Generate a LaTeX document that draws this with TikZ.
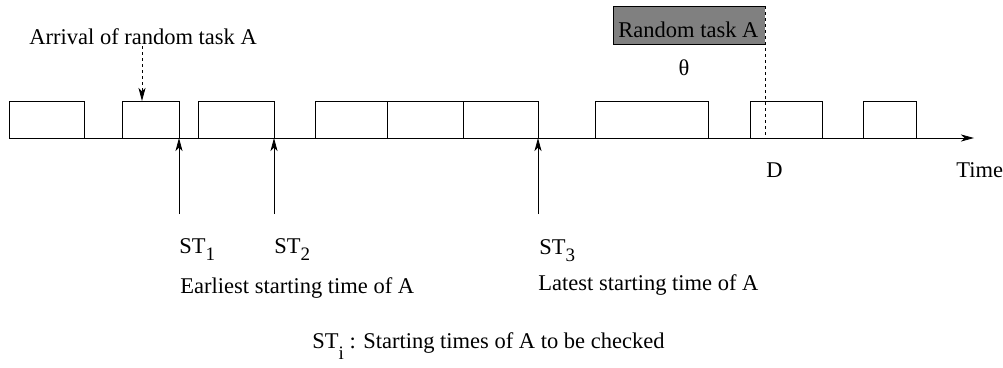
\documentclass[tikz,border=0pt]{standalone}
\usepackage{fontspec}
\setmainfont{Liberation Serif}
\usetikzlibrary{arrows.meta}
\newcommand{\lowsub}[2]{\raisebox{-#1}{\fontsize{19}{19}\selectfont #2}}
\tikzset{
  lbl/.style={font=\fontsize{22.5}{27}\selectfont, inner sep=0pt, anchor=base west},
  job/.style={draw, line width=0.8pt, inner sep=0pt, outer sep=0pt, minimum height=37pt, anchor=south west},
}
\begin{document}
\begin{tikzpicture}[x=1pt, y=-1pt, line width=0.8pt, >={Stealth[length=13pt,width=7pt,inset=3.5pt]}]
    \useasboundingbox (0,0) rectangle (1003,367);

    % time line and the tasks on it
    \coordinate (t0) at (9,138);
    \coordinate (tend) at (974,138);
    \draw[->] (t0)--(tend);
    \foreach \a/\b [count=\i] in {9/84, 122/179, 198/274, 315/387, 387/463, 463/538, 595/708, 750/822, 863/916}
      \node[job, minimum width={(\b-\a)*1pt}] (j\i) at (\a,138) {};

    % random task
    \node[fill=gray, inner sep=0pt, outer sep=0pt, minimum width=152pt, minimum height=38pt] (rt) at (689,25) {};
    \draw (rt.north east)--(rt.north west)--(rt.south west)--(rt.south east);
    \draw[dashed] (rt.north east)--(rt.north east |- t0);
    \node[lbl] (rtl) at (618,37) {Random task A};
    \node[lbl, anchor=base] (theta) at (684,75) {θ};
    \node[lbl] (d) at (766,177) {D};
    \node[lbl] (time) at (956,177) {Time};

    % arrival
    \node[lbl] (arr) at (29,44) {Arrival of random task A};
    \coordinate (arrtop) at (142,46);
    \draw[dashed, ->] (arrtop)--(arrtop |- j2.north);

    % starting times
    \coordinate (st1b) at (179,214);
    \coordinate (st2b) at (274,214);
    \coordinate (st3b) at (538,214);
    \draw[->] (st1b)--(j2.south east);
    \draw[->] (st2b)--(j3.south east);
    \draw[->] (st3b)--(j6.south east);

    \node[lbl] (st1) at (179,253) {ST\lowsub{7pt}{1}};
    \node[lbl] (st2) at (274,253) {ST\lowsub{7pt}{2}};
    \node[lbl] (st3) at (539,254) {ST\lowsub{7pt}{3}};
    \node[lbl] (early) at (180,293) {Earliest starting time of A};
    \node[lbl] (late) at (538,290) {Latest starting time of A};
    \node[lbl] (sti) at (312,348) {ST\lowsub{11pt}{i} : Starting times of A to be checked};
  \end{tikzpicture}
\end{document}
